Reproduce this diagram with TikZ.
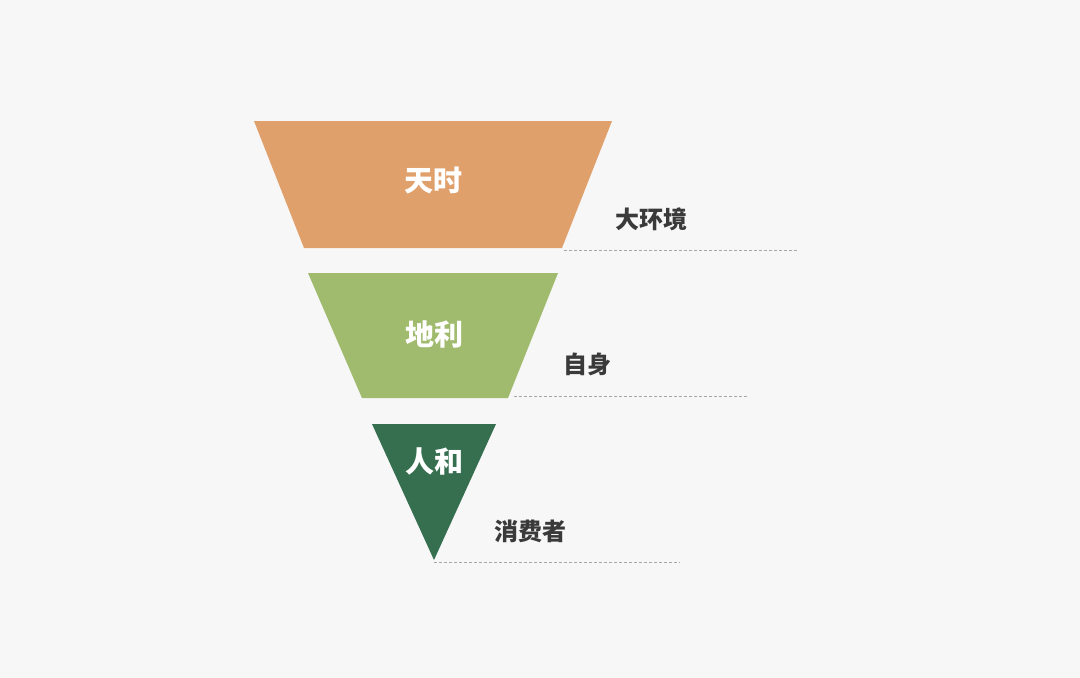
\documentclass[tikz,border=0pt]{standalone}
\usepackage{fontspec}
\newfontfamily\cjk{Noto Sans CJK SC}
\definecolor{bg}{HTML}{F7F7F7}
\definecolor{tianshi}{HTML}{E0A06C}
\definecolor{dili}{HTML}{A0BB6E}
\definecolor{renhe}{HTML}{366F4F}
\definecolor{note}{HTML}{3A3A3A}
\tikzset{
  level/.style={font=\cjk\bfseries\fontsize{29}{31}\selectfont, text=white},
  side/.style={font=\cjk\bfseries\fontsize{24}{26}\selectfont, text=note},
  rule/.style={gray!70, dash pattern=on 3pt off 2pt, line width=0.6pt}
}
\begin{document}
\begin{tikzpicture}[x=1pt, y=-1pt]
  \fill[bg] (0, 0) rectangle (1080, 678);
  \useasboundingbox (0, 0) rectangle (1080, 678);
  % funnel
  \fill[tianshi] (254, 121) -- (612, 121) -- (562, 248) -- (304, 248) -- cycle;
  \fill[dili] (308, 273) -- (558, 273) -- (508, 398) -- (362, 398) -- cycle;
  \fill[renhe] (372, 424) -- (496, 424) -- (434, 560) -- cycle;
  \node[level] (tian) at (433, 180) {天时};
  \node[level] (di) at (434, 334) {地利};
  \node[level] (ren) at (434, 461) {人和};
  % notes
  \node[side] (env) at (651, 219) {大环境};
  \node[side] (self) at (587, 364) {自身};
  \node[side] (user) at (530, 531) {消费者};
  \coordinate (a1) at (564, 250);
  \coordinate (a2) at (797, 250);
  \coordinate (b1) at (514, 396);
  \coordinate (b2) at (747, 396);
  \coordinate (c1) at (434, 562);
  \coordinate (c2) at (680, 562);
  \draw[rule] (a1) -- (a2);
  \draw[rule] (b1) -- (b2);
  \draw[rule] (c1) -- (c2);
\end{tikzpicture}
\end{document}
